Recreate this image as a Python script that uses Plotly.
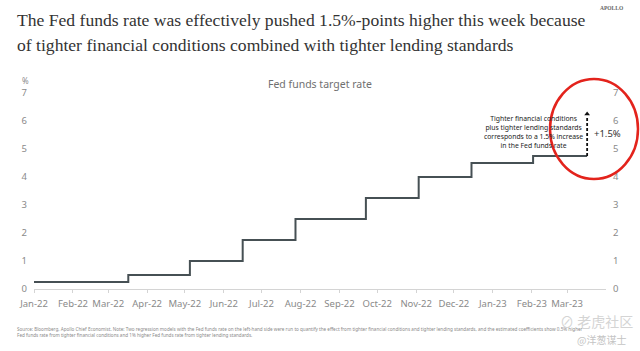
import plotly.graph_objects as go

# ---- data ----
step_dates = ["2022-01-01", "2022-03-17", "2022-05-05", "2022-06-16", "2022-07-28",
              "2022-09-22", "2022-11-03", "2022-12-15", "2023-02-02", "2023-03-17"]
fed_rate = [0.25, 0.5, 1.0, 1.75, 2.5, 3.25, 4.0, 4.5, 4.75, 4.75]
tick_dates = ["2022-01-01", "2022-02-01", "2022-03-01", "2022-04-01", "2022-05-01",
              "2022-06-01", "2022-07-01", "2022-08-01", "2022-09-01", "2022-10-01",
              "2022-11-01", "2022-12-01", "2023-01-01", "2023-02-01", "2023-03-01"]
tick_labels = ["Jan-22", "Feb-22", "Mar-22", "Apr-22", "May-22", "Jun-22", "Jul-22",
               "Aug-22", "Sep-22", "Oct-22", "Nov-22", "Dec-22", "Jan-23", "Feb-23", "Mar-23"]
y_ticks = [0, 1, 2, 3, 4, 5, 6, 7]
increase = 1.5

W, H = 640, 351
L, R, T, B = 34, 34, 93, 62


def px(x):
    return (x - L) / (W - L - R)


def py(y):
    return (H - B - y) / (H - T - B)


fig = go.Figure()
fig.add_trace(go.Scatter(x=step_dates, y=fed_rate, mode="lines", line_shape="hv",
                         line=dict(color="#465054", width=2), hoverinfo="skip",
                         showlegend=False))
fig.add_trace(go.Scatter(x=step_dates, y=fed_rate, mode="lines", yaxis="y2",
                         line=dict(width=0, color="rgba(0,0,0,0)"), hoverinfo="skip",
                         showlegend=False))

last_date = step_dates[-1]
last_rate = fed_rate[-1]

# dashed arrow +1.5%
fig.add_trace(go.Scatter(x=[last_date, last_date], y=[last_rate, last_rate + increase - 0.12],
                         mode="lines", line=dict(color="#111", width=1.8, dash="3px,2px"),
                         hoverinfo="skip", showlegend=False))
fig.add_trace(go.Scatter(x=[last_date], y=[last_rate + increase], mode="markers",
                         marker=dict(symbol="triangle-up", size=5, color="#111"),
                         hoverinfo="skip", showlegend=False))

tickfont = dict(family="Noto Sans", size=9.5, color="#8a8a8a")
fig.update_layout(
    width=W, height=H, margin=dict(l=L, r=R, t=T, b=B),
    paper_bgcolor="white", plot_bgcolor="white",
    xaxis=dict(type="date", range=["2022-01-01", "2023-04-01"],
               tickvals=tick_dates, ticktext=tick_labels, tickfont=tickfont,
               showgrid=False, zeroline=False, showline=True, linecolor="#d4d4d4",
               linewidth=1, ticks="outside", ticklen=3, tickcolor="#d4d4d4",
               ticklabelstandoff=3),
    yaxis=dict(range=[0, 7], tickvals=y_ticks, tickfont=tickfont, showgrid=False,
               zeroline=False, showline=False, ticklabelstandoff=6),
    yaxis2=dict(range=[0, 7], tickvals=y_ticks, tickfont=tickfont, showgrid=False,
                zeroline=False, showline=False, overlaying="y", side="right",
                ticklabelstandoff=6),
)

annos = [
    dict(x=px(15), y=py(20), text="The Fed funds rate was effectively pushed 1.5%-points higher this week because",
         font=dict(family="Liberation Serif", size=17.6, color="#333"), xanchor="left"),
    dict(x=px(15), y=py(45), text="of tighter financial conditions combined with tighter lending standards",
         font=dict(family="Liberation Serif", size=17.6, color="#333"), xanchor="left"),
    dict(x=px(612), y=py(8), text="<b>APOLLO</b>",
         font=dict(family="Liberation Serif", size=5.5, color="#666"), xanchor="center"),
    dict(x=px(320), y=py(84), text="Fed funds target rate",
         font=dict(family="Noto Sans", size=10.5, color="#707070"), xanchor="center"),
    dict(x=px(25), y=py(81), text="%", font=dict(family="Noto Sans", size=8, color="#8a8a8a"),
         xanchor="center"),
    dict(x=px(533), y=py(131.5),
         text="Tighter financial conditions<br>plus tighter lending standards<br>corresponds to a 1.5% increase<br>in the Fed funds rate",
         font=dict(family="Noto Sans", size=6.8, color="#222"), xanchor="center", align="center"),
    dict(x=px(607), y=py(133), text="+1.5%",
         font=dict(family="Noto Sans", size=9.5, color="#333"), xanchor="center"),
    dict(x=px(15), y=py(331.5),
         text="Source: Bloomberg, Apollo Chief Economist. Note: Two regression models with the Fed funds rate on the left-hand side were run to quantify the effect from tighter financial conditions and tighter lending standards, and the estimated coefficients show 0.5% higher<br>Fed funds rate from tighter financial conditions and 1% higher Fed funds rate from tighter lending standards.",
         font=dict(family="Noto Sans", size=4.6, color="#8a8a8a"), xanchor="left", align="left"),
    dict(x=px(596), y=py(321), text="⊘ 老虎社区",
         font=dict(family="Noto Sans CJK SC", size=14, color="#d4d4d4"), xanchor="center"),
    dict(x=px(601), y=py(339), text="@洋葱谋士",
         font=dict(family="Noto Sans CJK SC", size=10, color="#c4c4c4"), xanchor="center"),
]
for a in annos:
    fig.add_annotation(xref="paper", yref="paper", showarrow=False, yanchor="middle", **a)

# red circle highlighting
fig.add_shape(type="circle", xref="paper", yref="paper",
              x0=px(550), x1=px(638), y0=py(179), y1=py(79),
              line=dict(color="#e3231c", width=2.5))

fig.write_html("out.html")
